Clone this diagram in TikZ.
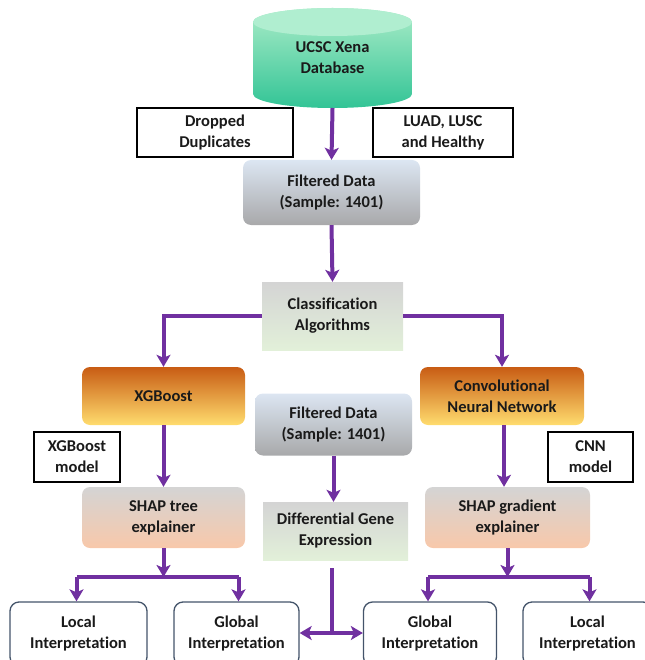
\documentclass[tikz,border=0pt]{standalone}
\usepackage{fontspec}
\setmainfont{Carlito}[Ligatures=NoCommon]
\usetikzlibrary{arrows.meta}
\definecolor{arrowc}{HTML}{7030A0}
\definecolor{txt}{HTML}{1A1A1A}
\definecolor{navy}{HTML}{44546A}
\definecolor{dbtop}{RGB}{170,236,200}
\definecolor{dbbot}{RGB}{50,196,150}
\definecolor{dbcap}{RGB}{176,238,208}
\definecolor{ortop}{RGB}{200,92,20}
\definecolor{orbot}{RGB}{255,220,110}
\definecolor{peach}{RGB}{248,200,170}
\definecolor{fdtop}{RGB}{220,230,242}
\definecolor{fdbot}{RGB}{168,168,170}
\definecolor{grtop}{RGB}{212,212,212}
\definecolor{grbot}{RGB}{226,240,217}
\tikzset{
  lbl/.style={align=center, text=txt, font=\bfseries\fontsize{16.5}{21}\selectfont, inner sep=0pt},
  whitebox/.style={lbl, draw=black, line width=1.3pt, fill=white},
  filtbox/.style={lbl, rounded corners=8pt, top color=fdtop, bottom color=fdbot},
  clsbox/.style={lbl, top color=grtop, bottom color=grbot},
  orangebox/.style={lbl, rounded corners=8pt, top color=ortop, bottom color=orbot},
  shapbox/.style={lbl, rounded corners=8pt, top color=grtop, bottom color=peach},
  outbox/.style={lbl, rounded corners=9pt, draw=navy, line width=1.3pt, fill=white},
  conn/.style={draw=arrowc, line width=4pt},
  arr/.style={conn, -{Stealth[length=12pt,width=14pt,inset=3pt]}},
  darr/.style={conn, {Stealth[length=12pt,width=14pt,inset=3pt]}-{Stealth[length=12pt,width=14pt,inset=3pt]}},
}
\begin{document}
\begin{tikzpicture}[x=1pt,y=-1pt]
\useasboundingbox (0,0) rectangle (644,660);
% database cylinder
\path[top color=dbtop, bottom color=dbbot]
  (253,22) -- (253,94) arc[start angle=180,end angle=0,x radius=79.5,y radius=14]
  -- (412,22) arc[start angle=0,end angle=-180,x radius=79.5,y radius=14] -- cycle;
\fill[dbcap] (332.5,22) ellipse[x radius=79.5,y radius=14];
\node[lbl] (db) at (332.5,58) {UCSC Xena\\Database};
\coordinate (dbb) at (332.5,108);

\node[whitebox, minimum width=156pt, minimum height=49pt] (dd) at (215,132.5) {Dropped\\Duplicates};
\node[whitebox, minimum width=140pt, minimum height=49pt] (luad) at (443,132.5) {LUAD, LUSC\\and Healthy};
\node[filtbox, minimum width=177pt, minimum height=65pt] (fd1) at (331.5,192.5) {Filtered Data\\(Sample: 1401)};
\node[clsbox, minimum width=141pt, minimum height=68pt] (cls) at (332.5,316) {Classification\\Algorithms};
\node[orangebox, minimum width=163pt, minimum height=58pt] (xgb) at (163.5,396) {XGBoost};
\node[orangebox, minimum width=164pt, minimum height=58pt] (cnn) at (502,396) {Convolutional\\Neural Network};
\node[filtbox, minimum width=157pt, minimum height=62pt] (fd2) at (333.5,424.5) {Filtered Data\\(Sample: 1401)};
\node[whitebox, minimum width=86pt, minimum height=50pt] (xgbm) at (77,457) {XGBoost\\model};
\node[whitebox, minimum width=85pt, minimum height=50pt] (cnnm) at (590.5,457) {CNN\\model};
\node[shapbox, minimum width=163pt, minimum height=61pt] (shapt) at (163.5,517.5) {SHAP tree\\explainer};
\node[clsbox, minimum width=145pt, minimum height=58pt] (dge) at (335.5,531) {Differential Gene\\Expression};
\node[shapbox, minimum width=165pt, minimum height=61pt] (shapg) at (507.5,517.5) {SHAP gradient\\explainer};

\node[outbox, minimum width=137pt, minimum height=64pt] (loc1) at (78.5,634) {Local\\Interpretation};
\node[outbox, minimum width=125pt, minimum height=64pt] (glb1) at (236.5,634) {Global\\Interpretation};
\node[outbox, minimum width=133pt, minimum height=64pt] (glb2) at (430,634) {Global\\Interpretation};
\node[outbox, minimum width=129pt, minimum height=64pt] (loc2) at (587.5,634) {Local\\Interpretation};

% connectors
\draw[arr] (dbb) -- (fd1.north);
\draw[arr] (fd1.south) -- (cls.north);
\draw[arr] (cls.west) -| (xgb.north);
\draw[arr] (cls.east) -| (cnn.north);
\draw[arr] (xgb.south) -- (shapt.north);
\draw[arr] ([xshift=2pt]cnn.south) -- ([xshift=2pt]cnn.south |- shapg.north);
\draw[arr] (fd2.south) -- (fd2.south |- dge.north);

\coordinate (ls) at (163.5,577);
\coordinate (rs) at (507.5,577);
\draw[arr] (shapt.south) -- (ls);
\draw[arr] (shapg.south) -- (rs);
\draw[conn] ([xshift=-2pt]loc1.north |- ls) -- ([xshift=2pt]glb1.north |- ls);
\draw[conn] ([xshift=-2pt]glb2.north |- rs) -- ([xshift=2pt]loc2.north |- rs);
\draw[arr] ([xshift=-2pt]loc1.north |- ls) -- ([xshift=-2pt]loc1.north);
\draw[arr] ([xshift=2pt]glb1.north |- ls) -- ([xshift=2pt]glb1.north);
\draw[arr] ([xshift=-2pt]glb2.north |- rs) -- ([xshift=-2pt]glb2.north);
\draw[arr] ([xshift=2pt]loc2.north |- rs) -- ([xshift=2pt]loc2.north);

\coordinate (mtop) at (332,568);
\coordinate (mbot) at (332,633);
\draw[conn] (mtop) -- (mbot);
\draw[darr] (glb1.east |- mbot) -- (glb2.west |- mbot);
\end{tikzpicture}
\end{document}
